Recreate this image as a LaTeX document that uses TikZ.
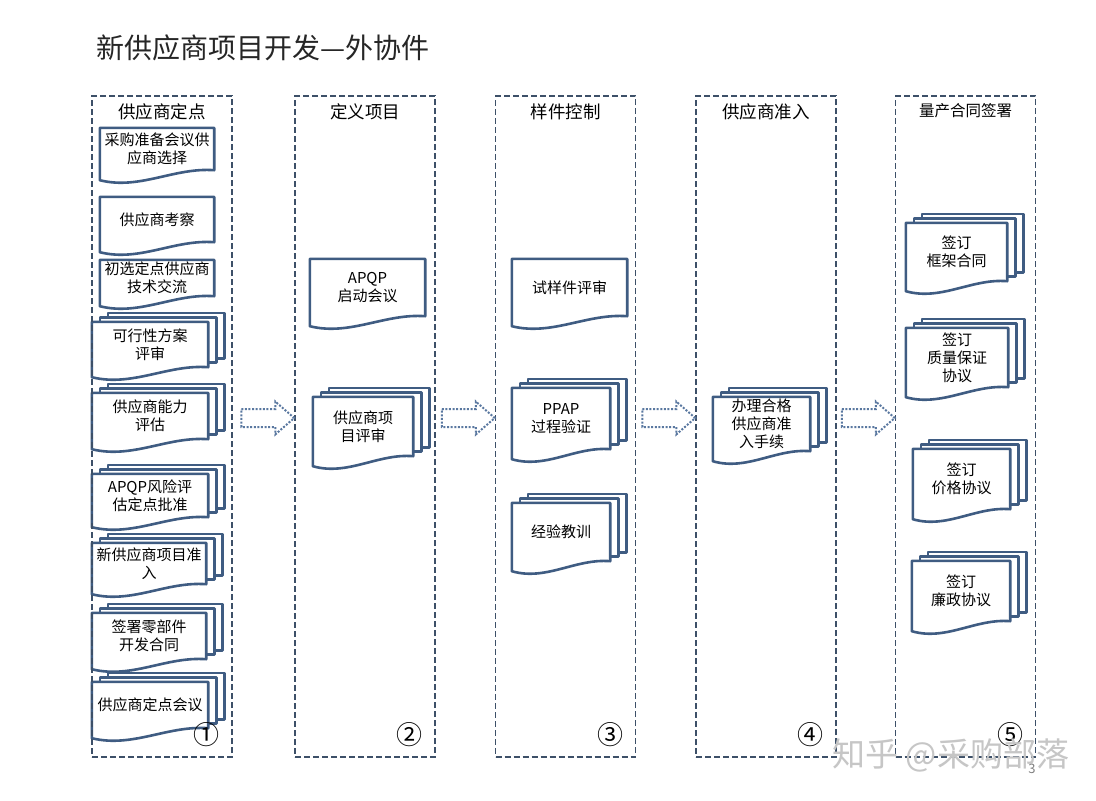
\documentclass[tikz,border=0pt]{standalone}
\usepackage{fontspec}
\setmainfont{Noto Sans CJK SC}
\usepackage{tikz}
\usetikzlibrary{positioning, calc, backgrounds}

\definecolor{docblue}{HTML}{3F5C82}
\definecolor{lanegray}{HTML}{3D5068}
\definecolor{arrowblue}{HTML}{5A78A0}

\tikzset{
	lane/.style={draw=lanegray, line width=1.5pt, dash pattern=on 6pt off 3pt, minimum width=140pt, minimum height=661pt, inner sep=0pt},
	lanehead/.style={inner sep=2pt},
	doc/.style={align=center, inner sep=0pt, font=\fontsize{15}{18}\selectfont},
	docline/.style={draw=docblue, line width=2.6pt, fill=white, line join=round},
	flowarrow/.style={draw=arrowblue, line width=2pt, dash pattern=on 2pt off 1.6pt},
	stepnum/.style={font=\fontsize{26}{26}\selectfont},
}

% single sheet: straight top, wavy bottom below the node
\newcommand{\docshape}[1]{%
	\path[docline] let \p1=(#1.north west), \p2=(#1.south east), \n1={\x2-\x1} in
		(\x1,\y1) -- (\x2,\y1) -- (\x2,\y2)
		.. controls ({\x2-0.35*\n1},{\y2+3}) and ({\x1+0.35*\n1},{\y2-20}) .. (\x1,{\y2-10}) -- cycle;
}
% three sheets
\newcommand{\docstack}[1]{%
	\foreach \k in {2,1} {
		\path[docline] let \p1=(#1.north west), \p2=(#1.south east) in
			({\x1+8*\k},{\y1+4.5*\k}) rectangle ({\x2+8*\k},{\y2+4.5*\k});
	}
	\docshape{#1}
}
\newcommand{\hollowarrow}[1]{%
	\draw[flowarrow] #1 ++(0,-9) -- ++(34,0) -- ++(0,-7.5) -- ++(19,16.5) -- ++(-19,16.5) -- ++(0,-7.5) -- ++(-34,0) -- cycle;
}

\begin{document}
\begin{tikzpicture}[x=1pt, y=-1pt]
	\useasboundingbox (0,0) rectangle (1096,801);

	\node[anchor=west, font=\fontsize{28}{28}\selectfont, text=black!85] (title) at (93,48) {新供应商项目开发—外协件};

	\foreach \cx/\lab/\fs/\num [count=\i] in {162/供应商定点/17.5/①, 365/定义项目/17.5/②, 565.5/样件控制/17.5/③, 766/供应商准入/17.5/④, 965.5/量产合同签署/15.5/⑤} {
		\node[lane] (lane\i) at (\cx,426.5) {};
		\node[lanehead, font=\fontsize{\fs}{\fs}\selectfont, below=6pt of lane\i.north] (head\i) {\lab};
		\node[stepnum] (num\i) at ($(lane\i.south east)+(-26,-23)$) {\num};
	}

	% lane 1
	\node[doc, minimum width=114pt, minimum height=42pt] (select) at (157,149) {采购准备会议供\\应商选择};
	\node[doc, minimum width=114pt, minimum height=45pt] (visit) at (157,219.5) {供应商考察};
	\node[doc, minimum width=114pt, minimum height=36pt] (tech) at (157,278) {初选定点供应商\\技术交流};
	\node[doc, minimum width=116pt, minimum height=45pt] (plan) at (150,344.5) {可行性方案\\评审};
	\node[doc, minimum width=116pt, minimum height=46pt] (ability) at (150,416) {供应商能力\\评估};
	\node[doc, minimum width=116pt, minimum height=43pt] (risk) at (150,495.5) {APQP风险评\\估定点批准};
	\node[doc, minimum width=114pt, minimum height=41pt] (entry) at (149,563.5) {新供应商项目准\\入};
	\node[doc, minimum width=114pt, minimum height=46pt] (contract) at (149,636) {签署零部件\\开发合同};
	\node[doc, minimum width=116pt, minimum height=46pt] (meeting) at (150,705) {供应商定点会议};

	% lane 2
	\node[doc, minimum width=115pt, minimum height=57pt] (kickoff) at (367.5,287.5) {APQP\\启动会议};
	\node[doc, minimum width=100pt, minimum height=59pt] (review) at (363,426.5) {供应商项\\目评审};

	% lane 3
	\node[doc, minimum width=115pt, minimum height=57pt] (sample) at (569.5,287.5) {试样件评审};
	\node[doc, minimum width=98pt, minimum height=61pt] (ppap) at (561,418.5) {PPAP\\过程验证};
	\node[doc, minimum width=98pt, minimum height=58pt] (lesson) at (561,532) {经验教训};

	% lane 4
	\node[doc, minimum width=97pt, minimum height=54pt] (admit) at (761.5,424) {办理合格\\供应商准\\入手续};

	% lane 5
	\node[doc, minimum width=101pt, minimum height=58pt] (frame) at (956.5,252) {签订\\框架合同};
	\node[doc, minimum width=102pt, minimum height=59pt] (quality) at (957,357.5) {签订\\质量保证\\协议};
	\node[doc, minimum width=97pt, minimum height=60pt] (price) at (961.5,479) {签订\\价格协议};
	\node[doc, minimum width=98pt, minimum height=60pt] (clean) at (961,591) {签订\\廉政协议};

	\begin{scope}[on background layer]
		\fill[white] (0,0) rectangle (1096,801);
		\docshape{select}
		\docshape{visit}
		\docshape{tech}
		\foreach \d in {plan, ability, risk, entry, contract, meeting, review, ppap, lesson, admit, frame, quality, price, clean} {
			\docstack{\d}
		}
		\docshape{kickoff}
		\docshape{sample}
	\end{scope}

	\foreach \j in {2, ..., 5} {
		\hollowarrow{($(lane\j.west)+(-53,-8.5)$)}
	}

	\node[anchor=west, font=\fontsize{33}{33}\selectfont, text=gray!45] (mark) at (829,755) {知乎 @采购部落};
	\node[font=\fontsize{13}{13}\selectfont, text=gray] (page) at (1032,769) {3};
\end{tikzpicture}
\end{document}
